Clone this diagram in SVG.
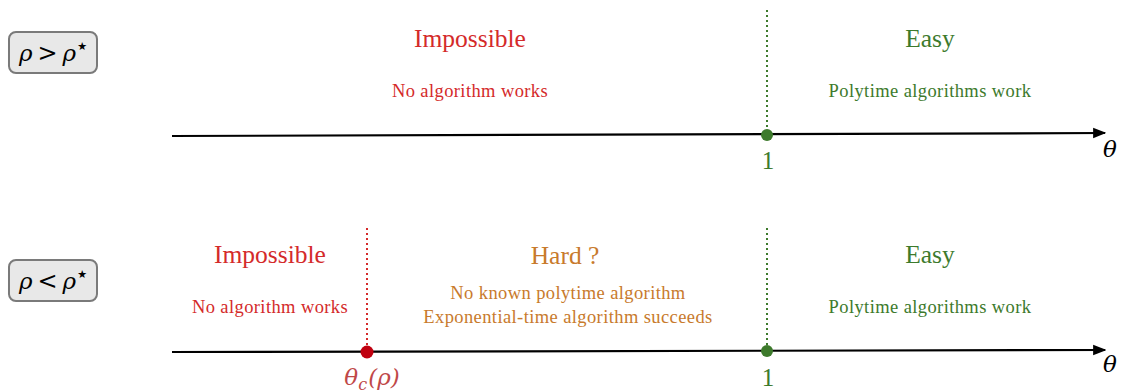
<svg xmlns="http://www.w3.org/2000/svg" width="1123" height="392" viewBox="0 0 1123 392">
<defs>
<style>
text{font-family:"Liberation Serif","DejaVu Serif",serif;text-anchor:middle}
.t{font-size:25.5px}
.s{font-size:18.5px;letter-spacing:0.4px}
.red{fill:#d42a2a}
.grn{fill:#3d7a2c}
.org{fill:#c87a2c}
.ax{stroke:#000;stroke-width:2.2;fill:none}
.box{fill:#e8e8e8;stroke:#7a7a7a;stroke-width:2}
.m{font-family:"DejaVu Serif","Liberation Serif",serif;font-size:23px;font-style:italic}
.op{font-style:normal;font-size:24px}
.st{font-family:"DejaVu Sans",sans-serif;font-style:normal;font-size:11px}
</style>
<marker id="arr" viewBox="0 0 10 10" refX="9" refY="5" markerWidth="6" markerHeight="6" orient="auto" markerUnits="strokeWidth"><path d="M0,1 L10,5 L0,9 z" fill="#000"/></marker>
</defs>
<g id="connectors">
<line class="ax" x1="172" y1="136" x2="1105" y2="133" marker-end="url(#arr)"/>
<line class="ax" x1="172" y1="352" x2="1105" y2="350" marker-end="url(#arr)"/>
<line x1="767" y1="10" x2="767" y2="134" stroke="#3d7a2c" stroke-width="2" stroke-dasharray="2,3"/>
<line x1="767" y1="228" x2="767" y2="350" stroke="#3d7a2c" stroke-width="2" stroke-dasharray="2,3"/>
<line x1="367" y1="228" x2="367" y2="351" stroke="#d42a2a" stroke-width="2" stroke-dasharray="2,3"/>
</g>
<g id="box-top"><rect class="box" x="9" y="32" width="88" height="41" rx="7"/><text x="53" y="61" class="m" fill="#000">ρ<tspan class="op" dx="5">&gt;</tspan><tspan dx="5">ρ</tspan><tspan class="st" dx="1" dy="-11">★</tspan></text></g>
<g id="box-bottom"><rect class="box" x="9" y="260" width="88" height="41" rx="7"/><text x="53" y="289" class="m" fill="#000">ρ<tspan class="op" dx="5">&lt;</tspan><tspan dx="5">ρ</tspan><tspan class="st" dx="1" dy="-11">★</tspan></text></g>
<g id="top-impossible"><text x="470" y="47" class="t red">Impossible</text><text x="470" y="97" class="s red">No algorithm works</text></g>
<g id="top-easy"><text x="930" y="47" class="t grn">Easy</text><text x="930" y="97" class="s grn">Polytime algorithms work</text></g>
<g id="top-one"><circle cx="767" cy="135" r="6" fill="#3d7a2c"/><text x="768" y="169" font-size="25" class="grn">1</text></g>
<text x="1110" y="157" class="m">θ</text>
<g id="bot-impossible"><text x="270" y="263" class="t red">Impossible</text><text x="270" y="313" class="s red">No algorithm works</text></g>
<g id="bot-hard"><text x="565" y="264" class="t org">Hard ?</text><text x="568" y="299" class="s org">No known polytime algorithm</text><text x="568" y="323" class="s org">Exponential-time algorithm succeeds</text></g>
<g id="bot-easy"><text x="930" y="263" class="t grn">Easy</text><text x="930" y="313" class="s grn">Polytime algorithms work</text></g>
<g id="theta-c"><circle cx="367" cy="352" r="6.5" fill="#c00010"/><text x="372" y="385" class="m" fill="#c04848">θ<tspan font-size="16" dy="5">c</tspan><tspan dy="-5" dx="1">(ρ)</tspan></text></g>
<g id="bot-one"><circle cx="767" cy="351" r="6" fill="#3d7a2c"/><text x="768" y="386" font-size="25" class="grn">1</text></g>
<text x="1110" y="372" class="m">θ</text>
</svg>
